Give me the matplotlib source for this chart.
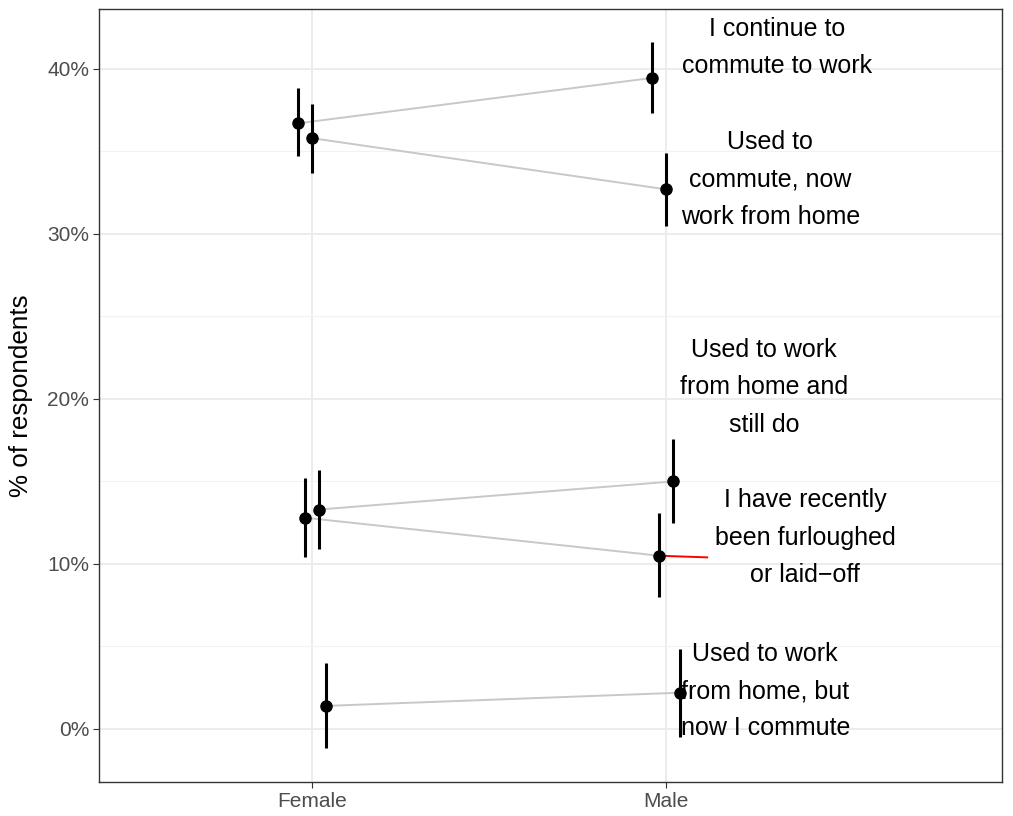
import matplotlib.pyplot as plt
from matplotlib.ticker import FuncFormatter, MultipleLocator

plt.rcParams['font.family'] = ['Liberation Sans', 'DejaVu Sans']

groups = ['Female', 'Male']
categories = [
    'I continue to\ncommute to work',
    'I have recently\nbeen furloughed\nor laid\u2212off',
    'Used to\ncommute, now\nwork from home',
    'Used to work\nfrom home and\nstill do',
    'Used to work\nfrom home, but\nnow I commute',
]
female = [36.7, 12.8, 35.8, 13.3, 1.4]
female_lo = [34.7, 10.4, 33.7, 10.9, -1.15]
female_hi = [38.85, 15.2, 37.9, 15.7, 4.0]
male = [39.45, 10.5, 32.7, 15.0, 2.2]
male_lo = [37.3, 8.0, 30.5, 12.5, -0.5]
male_hi = [41.6, 13.1, 34.9, 17.6, 4.85]

# where the repelled labels ended up (data coords)
label_xy = [(2.314, 41.3), (2.393, 11.6), (2.294, 33.3), (2.277, 20.7), (2.280, 2.3)]


def dodge(i, n=5, width=0.1):
    return (i - (n - 1) / 2) * width / (n - 1) * 0.8


def draw():
    fig = plt.figure(figsize=(10.13, 8.16), dpi=100)
    ax = fig.add_axes([0.0977, 0.0417, 0.8915, 0.9467])

    for i, cat in enumerate(categories):
        d = dodge(i)
        xf, xm = 1 + d, 2 + d
        ax.plot([xf, xm], [female[i], male[i]], color='#c8c8c8', lw=1.4, zorder=2)
        ax.vlines([xf, xm], [female_lo[i], male_lo[i]], [female_hi[i], male_hi[i]],
                  color='black', lw=2.2, zorder=3)
        ax.plot([xf, xm], [female[i], male[i]], 'o', color='black', ms=8, zorder=4)
        lx, ly = label_xy[i]
        if i == 1:
            # ggrepel segment
            ax.plot([xm, 2.116], [male[i], 10.4], color='red', lw=1.4, zorder=3)
        ax.text(lx, ly, cat, ha='center', va='center', fontsize=18,
                linespacing=1.7, color='black', zorder=5)

    ax.set_xlim(0.398, 2.949)
    ax.set_ylim(-3.21, 43.6)
    ax.set_xticks([1, 2])
    ax.set_xticklabels(groups)
    ax.yaxis.set_major_locator(MultipleLocator(10))
    ax.yaxis.set_minor_locator(MultipleLocator(5))
    ax.yaxis.set_major_formatter(FuncFormatter(lambda v, p: f'{v:.0f}%'))
    ax.grid(which='major', color='#ebebeb', lw=1.3, zorder=0)
    ax.grid(which='minor', axis='y', color='#f2f2f2', lw=0.8, zorder=0)
    ax.set_axisbelow(True)
    ax.tick_params(which='major', length=4, color='#333333', labelsize=15,
                   labelcolor='#4d4d4d', pad=3)
    ax.tick_params(which='minor', length=0)
    for s in ax.spines.values():
        s.set_color('#333333')
        s.set_linewidth(1.0)
    ax.set_ylabel('% of respondents', fontsize=18.7)
    ax.yaxis.set_label_coords(-0.073, 0.5)

    fig.savefig('out.png', dpi=100)


if __name__ == '__main__':
    draw()
